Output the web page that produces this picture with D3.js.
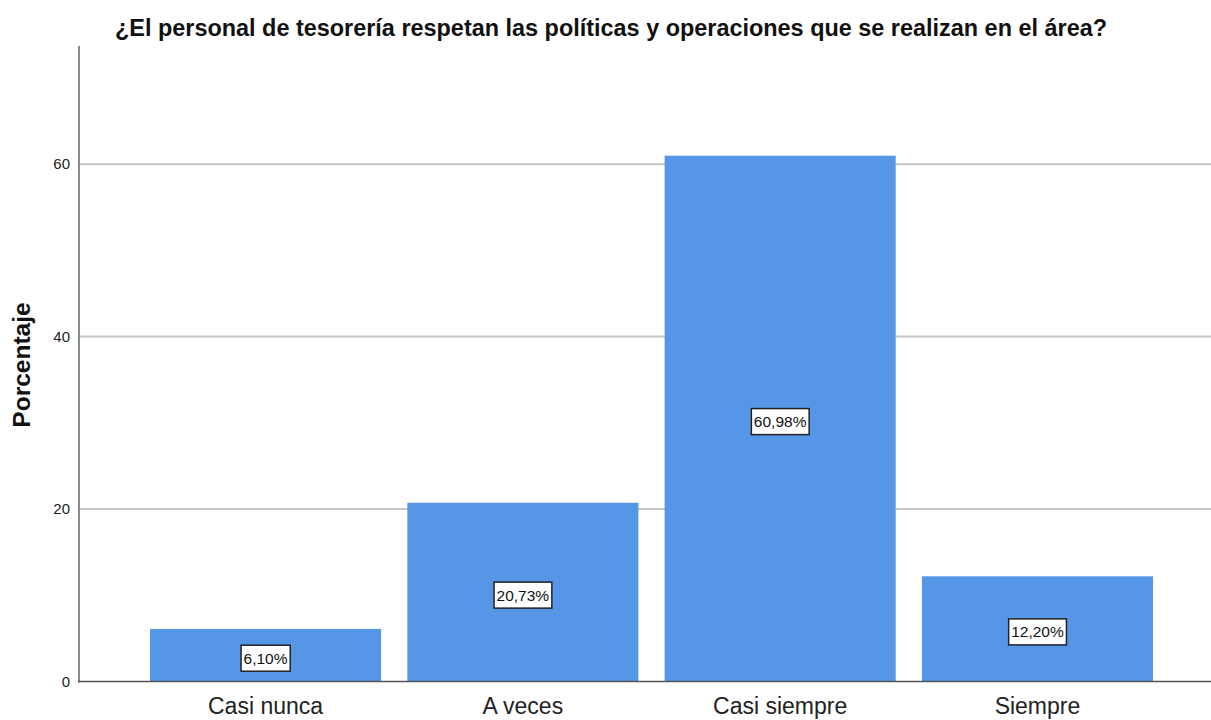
<!DOCTYPE html>
<html>
<head>
<meta charset="utf-8">
<script src="https://cdn.jsdelivr.net/npm/d3@7"></script>
<style>
  html, body { margin: 0; padding: 0; background: #fff; }
  svg { display: block; }
</style>
</head>
<body>
<svg id="chart" width="1211" height="720"></svg>
<script>
// Response categories and their percentages
const categories = ["Casi nunca", "A veces", "Casi siempre", "Siempre"];
const percentages = [6.10, 20.73, 60.98, 12.20];
const valueLabels = ["6,10%", "20,73%", "60,98%", "12,20%"];
const yTicks = [0, 20, 40, 60];
const yMax = 73.7;

const title = "¿El personal de tesorería respetan las políticas y operaciones que se realizan en el área?";
const yTitle = "Porcentaje";

const W = 1211, H = 720;
const plot = { left: 79, right: 1224, top: 46, bottom: 681.5 };

const svg = d3.select("#chart");
const font = "'Liberation Sans', Arial, sans-serif";

const x = d3.scaleBand()
  .domain(categories)
  .range([plot.left, plot.right])
  .paddingInner(0.102)
  .paddingOuter(0.276);

const y = d3.scaleLinear()
  .domain([0, yMax])
  .range([plot.bottom, plot.top]);

// Horizontal gridlines
svg.append("g")
  .selectAll("line")
  .data(yTicks.filter(d => d > 0))
  .join("line")
  .attr("x1", plot.left)
  .attr("x2", W)
  .attr("y1", d => y(d))
  .attr("y2", d => y(d))
  .attr("stroke", "#c6c6c6")
  .attr("stroke-width", 2);

// Bars
svg.append("g")
  .selectAll("rect")
  .data(percentages)
  .join("rect")
  .attr("x", (d, i) => x(categories[i]))
  .attr("width", x.bandwidth())
  .attr("y", d => y(d))
  .attr("height", d => y(0) - y(d))
  .attr("fill", "#5596e6");

// Left axis
const yAxis = d3.axisLeft(y).tickValues(yTicks).tickSize(0).tickPadding(9);
const gy = svg.append("g")
  .attr("transform", `translate(${plot.left},0)`)
  .call(yAxis);
gy.select(".domain").remove();
gy.selectAll("text")
  .attr("font-family", font)
  .attr("font-size", 15)
  .attr("fill", "#222");
svg.append("line")
  .attr("x1", plot.left).attr("x2", plot.left)
  .attr("y1", plot.top).attr("y2", plot.bottom + 1)
  .attr("stroke", "#8c8c8c")
  .attr("stroke-width", 2);

// Bottom axis
const xAxis = d3.axisBottom(x).tickSize(0).tickPadding(16);
const gx = svg.append("g")
  .attr("transform", `translate(0,${plot.bottom})`)
  .call(xAxis);
gx.select(".domain").remove();
gx.selectAll("text")
  .attr("font-family", font)
  .attr("font-size", 23)
  .attr("fill", "#222");
svg.append("line")
  .attr("x1", plot.left - 1).attr("x2", W)
  .attr("y1", plot.bottom).attr("y2", plot.bottom)
  .attr("stroke", "#555")
  .attr("stroke-width", 1.5);

// Value labels in boxes at the middle of each bar
const lbl = svg.append("g")
  .selectAll("g")
  .data(percentages)
  .join("g")
  .attr("transform", (d, i) =>
    `translate(${x(categories[i]) + x.bandwidth() / 2},${(y(d) + y(0)) / 2 + 3})`);
lbl.append("text")
  .attr("text-anchor", "middle")
  .attr("dy", "0.36em")
  .attr("font-family", font)
  .attr("font-size", 15.5)
  .attr("fill", "#111")
  .text((d, i) => valueLabels[i]);
lbl.each(function () {
  const g = d3.select(this);
  const bb = g.select("text").node().getBBox();
  g.insert("rect", "text")
    .attr("x", bb.x - 2.5)
    .attr("y", -13)
    .attr("width", bb.width + 5)
    .attr("height", 26)
    .attr("fill", "#fff")
    .attr("stroke", "#222")
    .attr("stroke-width", 1.5);
});

// Chart title
svg.append("text")
  .attr("x", 611)
  .attr("y", 36)
  .attr("text-anchor", "middle")
  .attr("font-family", font)
  .attr("font-weight", "bold")
  .attr("font-size", 23)
  .attr("textLength", 992)
  .attr("lengthAdjust", "spacingAndGlyphs")
  .attr("fill", "#111")
  .text(title);

// Y axis title
svg.append("text")
  .attr("transform", `translate(30,365) rotate(-90)`)
  .attr("text-anchor", "middle")
  .attr("font-family", font)
  .attr("font-weight", "bold")
  .attr("font-size", 24.5)
  .attr("fill", "#111")
  .text(yTitle);
</script>
</body>
</html>
